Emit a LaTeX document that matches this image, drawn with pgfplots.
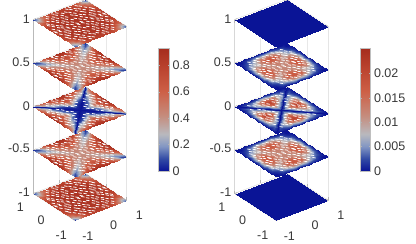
\documentclass[border=0pt]{standalone}
\usepackage{fontspec}
\setmainfont{Liberation Sans}
\usepackage{pgfplots}
\usepackage{pgfplotstable}
\pgfplotsset{compat=1.18}
\pgfplotsset{colormap={cw}{rgb255(0pt)=(10,20,150) rgb255(10pt)=(50,75,165) rgb255(20pt)=(130,150,195) rgb255(30pt)=(185,185,190) rgb255(45pt)=(197,140,125) rgb255(65pt)=(205,95,70) rgb255(85pt)=(185,65,45) rgb255(100pt)=(165,45,30)}}
\pgfplotstableread{
x y L1 L5 L0 R5 R0
0 1 .78 .90 .88 0 0
.125 1 .78 .90 .88 0 0
.25 1 .78 .88 .85 0 0
.375 1 .76 .85 .80 0 0
.5 1 .70 .78 .74 0 0
.625 1 .60 .65 .65 0 0
.75 1 .45 .42 .55 0 0
.875 1 .24 .20 .40 0 0
1 1 .06 .05 0 0 0
0 .875 .82 .84 .82 .005 .006
.125 .875 .82 .82 .80 .005 .006
.25 .875 .82 .80 .72 .005 .005
.375 .875 .80 .72 .62 .004 .004
.5 .875 .76 .60 .50 .003 .003
.625 .875 .66 .42 .42 .002 .002
.75 .875 .46 .25 .34 .001 .002
.875 .875 .28 .10 0 0 0
1 .875 .24 .20 .40 0 0
0 .75 .85 .76 .72 .012 .015
.125 .75 .85 .74 .65 .012 .014
.25 .75 .85 .70 .55 .011 .012
.375 .75 .84 .60 .42 .009 .008
.5 .75 .82 .46 .32 .006 .006
.625 .75 .76 .30 .26 .004 .004
.75 .75 .64 .18 0 .002 0
.875 .75 .46 .25 .34 .001 .002
1 .75 .45 .42 .55 0 0
0 .625 .86 .68 .60 .017 .021
.125 .625 .87 .65 .48 .017 .019
.25 .625 .87 .58 .34 .016 .014
.375 .625 .87 .48 .24 .012 .009
.5 .625 .86 .35 .18 .008 .005
.625 .625 .84 .24 0 .006 0
.75 .625 .76 .30 .26 .004 .004
.875 .625 .66 .42 .42 .002 .002
1 .625 .60 .65 .65 0 0
0 .5 .87 .58 .45 .017 .020
.125 .5 .87 .55 .30 .017 .016
.25 .5 .88 .48 .16 .015 .010
.375 .5 .88 .38 .10 .011 .005
.5 .5 .88 .28 0 .009 0
.625 .5 .86 .35 .18 .008 .005
.75 .5 .82 .46 .32 .006 .006
.875 .5 .76 .60 .50 .003 .003
1 .5 .70 .78 .74 0 0
0 .375 .87 .50 .28 .015 .016
.125 .375 .88 .47 .12 .014 .010
.25 .375 .88 .40 .05 .012 .005
.375 .375 .88 .32 0 .010 0
.5 .375 .88 .38 .10 .011 .005
.625 .375 .87 .48 .24 .012 .009
.75 .375 .84 .60 .42 .009 .008
.875 .375 .80 .72 .62 .004 .004
1 .375 .76 .85 .80 0 0
0 .25 .88 .45 .12 .013 .010
.125 .25 .88 .42 .03 .012 .005
.25 .25 .88 .35 0 .011 0
.375 .25 .88 .40 .05 .012 .005
.5 .25 .88 .48 .16 .015 .010
.625 .25 .87 .58 .34 .016 .014
.75 .25 .85 .70 .55 .011 .012
.875 .25 .82 .80 .72 .005 .005
1 .25 .78 .88 .85 0 0
0 .125 .88 .42 .03 .012 .005
.125 .125 .88 .40 0 .011 0
.25 .125 .88 .42 .03 .012 .005
.375 .125 .88 .47 .12 .014 .010
.5 .125 .87 .55 .30 .017 .016
.625 .125 .87 .65 .48 .017 .019
.75 .125 .85 .74 .65 .012 .014
.875 .125 .82 .82 .80 .005 .006
1 .125 .78 .90 .88 0 0
0 0 .88 .42 0 .012 0
.125 0 .88 .42 .03 .012 .005
.25 0 .88 .45 .12 .013 .010
.375 0 .87 .50 .28 .015 .016
.5 0 .87 .58 .45 .017 .020
.625 0 .86 .68 .60 .017 .021
.75 0 .85 .76 .72 .012 .015
.875 0 .82 .84 .82 .005 .006
1 0 .78 .90 .88 0 0
}\T
\pgfplotstableread{
x y
.08 .04
.25 .07
.46 .03
.60 .08
.79 .05
.93 .03
.15 .18
.36 .15
.55 .19
.69 .16
.88 .18
.06 .30
.27 .27
.42 .31
.64 .28
.78 .31
.19 .42
.33 .39
.52 .43
.73 .40
.86 .43
.10 .52
.24 .55
.46 .51
.60 .55
.82 .52
.15 .67
.37 .63
.51 .67
.72 .64
.06 .76
.28 .79
.42 .75
.63 .78
.19 .88
.33 .91
.55 .87
}\PA
\pgfplotstableread{
x y
.25 .07
.46 .03
.60 .08
.79 .05
.93 .03
.36 .15
.55 .19
.69 .16
.88 .18
.06 .30
.42 .31
.64 .28
.78 .31
.19 .42
.52 .43
.73 .40
.86 .43
.10 .52
.24 .55
.71 .54
.82 .52
.15 .67
.37 .63
.51 .67
.06 .76
.28 .79
.42 .75
.63 .78
.19 .88
.33 .91
.55 .87
}\PB
\pgfplotstableread{
x y
.25 .07
.46 .03
.60 .08
.79 .05
.36 .15
.55 .19
.69 .16
.06 .30
.42 .31
.64 .28
.78 .31
.19 .42
.52 .43
.73 .40
.10 .52
.24 .55
.71 .54
.17 .67
.37 .63
.51 .67
.06 .76
.28 .79
.42 .75
.63 .78
}\PC
\pgfplotstableread{
x y
.08 .04
.25 .07
.46 .03
.60 .08
.79 .05
.15 .18
.36 .15
.55 .19
.69 .16
.06 .30
.27 .27
.42 .31
.64 .28
.78 .31
.19 .42
.33 .39
.52 .43
.73 .40
.10 .52
.24 .55
.46 .51
.60 .55
.76 .52
.15 .67
.37 .63
.51 .67
.68 .64
.06 .76
.28 .79
.42 .75
.63 .78
}\PD
\newcommand{\qsurf}[4]{\addplot3[surf,shader=interp,z buffer=none,mesh/cols=9,point meta=explicit] table[x expr=#3\thisrow{x},y expr=#4\thisrow{y},z expr=#2,meta=#1]{\T};}
\newcommand{\slice}[2]{\qsurf{#1}{#2}{}{}\qsurf{#1}{#2}{-}{}\qsurf{#1}{#2}{}{-}\qsurf{#1}{#2}{-}{-}}
\newcommand{\qdash}[4]{\addplot3[only marks,mark=-,mark size=1.7pt,white,mark options={line width=.75pt,rotate=-10}] table[x expr=#3\thisrow{x},y expr=#4\thisrow{y},z index=0,z expr=#2]{#1};}
\newcommand{\dashes}[2]{\qdash{#1}{#2}{}{}\qdash{#1}{#2}{-}{}\qdash{#1}{#2}{}{-}\qdash{#1}{#2}{-}{-}}
\pgfplotsset{base/.style={
  anchor=origin,
  x={(26pt,10pt)},y={(-20.75pt,13.5pt)},z={(0pt,87pt)},
  xmin=-1,xmax=1,ymin=-1,ymax=1,zmin=-1,zmax=1,
  3d box=background,
  xtick={-1,0,1},ytick={-1,0,1},ztick={-1,-0.5,0,0.5,1},
  xticklabels={-1,0,1},yticklabels={-1,0,1},
  zticklabels={-1,-0.5,0,0.5,1},
  grid=major,grid style={gray!18,line width=.5pt},
  axis line style={gray!20,line width=.5pt},
  tick style={gray!60,line width=.5pt},
  major tick length=3pt,
  ticklabel style={font=\fontsize{12.5}{13}\selectfont,text=black!78},
  xticklabel style={xshift=8pt,yshift=-6pt},
  yticklabel style={xshift=-7pt,yshift=-5pt},
  colormap name=cw,
  colorbar,
}}
\newcommand{\frameaxis}{
  \addplot3[gray!55,line width=1pt] coordinates {(-1,1,-1) (-1,1,1)};
  \addplot3[gray!55,line width=.6pt] coordinates {(-1,1,-1) (-1,-1,-1) (1,-1,-1)};
}
\begin{document}
\begin{tikzpicture}[x=1pt,y=1pt]
\useasboundingbox (0,0) rectangle (416,244);
\begin{axis}[base,at={(80pt,134pt)},point meta min=0,point meta max=.93,
  colorbar style={at={(1.34,.224)},anchor=south west,width=10.5pt,height=123pt,
    ytick={0,.2,.4,.6,.8},yticklabels={0,0.2,0.4,0.6,0.8},
    axis line style={gray!50},major tick length=1.5pt,tick style={gray!60},ylabel={},
    yticklabel style={font=\fontsize{12.5}{13}\selectfont,text=black!78}}]
\frameaxis
\slice{L1}{-1}\dashes{\PA}{-1}
\slice{L5}{-0.5}\dashes{\PA}{-0.5}
\slice{L0}{0}\dashes{\PB}{0}
\slice{L5}{0.5}\dashes{\PA}{0.5}
\slice{L1}{1}\dashes{\PA}{1}
\end{axis}
\begin{axis}[base,at={(281.5pt,134pt)},point meta min=0,point meta max=.0252,
  colorbar style={at={(1.34,.224)},anchor=south west,width=10.5pt,height=123pt,
    ytick={0,.005,.01,.015,.02},yticklabels={0,0.005,0.01,0.015,0.02},
    axis line style={gray!50},major tick length=1.5pt,tick style={gray!60},ylabel={},
    scaled y ticks=false,
    yticklabel style={font=\fontsize{12.5}{13}\selectfont,text=black!78}}]
\frameaxis
\addplot3[surf,shader=interp,mesh/cols=2,point meta=explicit] coordinates {(-1,-1,-1)[0] (1,-1,-1)[0] (-1,1,-1)[0] (1,1,-1)[0]};
\slice{R5}{-0.5}\dashes{\PD}{-0.5}
\slice{R0}{0}\dashes{\PC}{0}
\slice{R5}{0.5}\dashes{\PD}{0.5}
\addplot3[surf,shader=interp,mesh/cols=2,point meta=explicit] coordinates {(-1,-1,1)[0] (1,-1,1)[0] (-1,1,1)[0] (1,1,1)[0]};
\end{axis}
\end{tikzpicture}
\end{document}
